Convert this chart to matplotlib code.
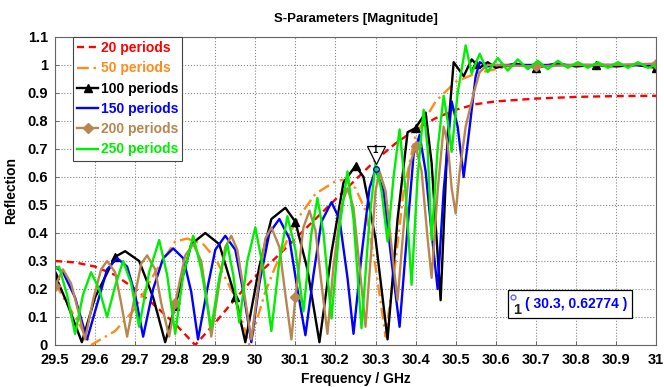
import numpy as np
import matplotlib
matplotlib.use("Agg")
import matplotlib.pyplot as plt
import matplotlib.transforms as mtransforms
from matplotlib.patches import Rectangle

plt.rcParams['font.family'] = ['Liberation Sans', 'DejaVu Sans']
plt.rcParams['font.weight'] = 'bold'

# 20 periods
f20 = [29.5, 29.55, 29.6, 29.65, 29.7, 29.75, 29.8, 29.85, 29.9, 29.95, 30.0, 30.05, 30.1,
       30.15, 30.2, 30.25, 30.3, 30.35, 30.4, 30.45, 30.5, 30.55, 30.6, 30.7, 30.8, 30.9, 31.0]
r20 = [0.30, 0.295, 0.28, 0.25, 0.20, 0.14, 0.075, 0.0, 0.08, 0.165, 0.245, 0.31, 0.38,
       0.45, 0.52, 0.59, 0.66, 0.72, 0.77, 0.81, 0.84, 0.86, 0.87, 0.88, 0.886, 0.889, 0.89]

# 50 periods
f50 = [29.5, 29.55, 29.59, 29.65, 29.7, 29.75, 29.8, 29.83, 29.87, 29.9, 29.95, 29.985,
       30.025, 30.05, 30.1, 30.15, 30.2, 30.22, 30.25, 30.275, 30.3, 30.325, 30.35, 30.37,
       30.4, 30.45, 30.5, 30.55, 30.6, 30.65, 30.8, 31.0]
r50 = [0.22, 0.10, 0.0, 0.05, 0.13, 0.26, 0.37, 0.38, 0.36, 0.31, 0.17, 0.0,
       0.19, 0.28, 0.44, 0.54, 0.585, 0.59, 0.56, 0.48, 0.28, 0.03, 0.30, 0.55,
       0.75, 0.87, 0.94, 0.97, 0.985, 1.0, 1.0, 1.0]

# 100 periods
f100 = [29.5, 29.53, 29.567, 29.6, 29.65, 29.675, 29.71, 29.745, 29.775, 29.8, 29.84, 29.875,
        29.91, 29.95, 29.975, 30.01, 30.04, 30.075, 30.1, 30.13, 30.16, 30.19, 30.22, 30.25,
        30.27, 30.3, 30.33, 30.355, 30.38, 30.4, 30.425, 30.44, 30.4625, 30.48, 30.495, 30.51,
        30.52, 30.54, 30.55, 30.56, 30.58, 30.6, 30.65, 30.7, 30.75, 30.8, 30.85, 30.9, 30.95, 31.0]
r100 = [0.25, 0.15, 0.01, 0.17, 0.315, 0.335, 0.30, 0.17, 0.01, 0.14, 0.36, 0.40,
        0.36, 0.17, 0.01, 0.28, 0.45, 0.49, 0.44, 0.27, 0.01, 0.33, 0.58, 0.64,
        0.60, 0.38, 0.02, 0.45, 0.76, 0.775, 0.83, 0.65, 0.16, 0.75, 1.01, 0.98,
        0.96, 1.02, 1.005, 0.99, 1.01, 0.99, 1.005, 0.99, 1.005, 0.995, 1.0, 0.995, 1.0, 0.99]
marks100 = [29.5, 29.65, 29.8, 29.95, 30.1, 30.25, 30.4, 30.55, 30.7, 30.85, 31.0]

# 150 periods
f150 = [29.5, 29.52, 29.55, 29.58, 29.61, 29.63, 29.655, 29.68, 29.70, 29.72, 29.745, 29.77,
        29.795, 29.82, 29.84, 29.857, 29.88, 29.90, 29.925, 29.95, 29.97, 29.99, 30.01, 30.035,
        30.06, 30.085, 30.105, 30.125, 30.145, 30.165, 30.19, 30.21, 30.23, 30.245, 30.265,
        30.285, 30.3, 30.32, 30.34, 30.36, 30.38, 30.395, 30.41, 30.425, 30.44, 30.455, 30.47,
        30.49, 30.505, 30.52, 30.535, 30.55, 30.56, 30.58, 30.6, 30.7, 30.8, 30.9, 31.0]
r150 = [0.28, 0.26, 0.17, 0.02, 0.17, 0.27, 0.31, 0.28, 0.18, 0.03, 0.20, 0.31,
        0.345, 0.31, 0.19, 0.02, 0.20, 0.34, 0.39, 0.34, 0.19, 0.01, 0.22, 0.40,
        0.45, 0.38, 0.20, 0.035, 0.25, 0.44, 0.51, 0.45, 0.24, 0.04, 0.32,
        0.56, 0.628, 0.55, 0.30, 0.065, 0.42, 0.68, 0.75, 0.62, 0.40, 0.20, 0.55,
        0.87, 0.78, 0.60, 0.78, 0.96, 1.01, 0.995, 1.0, 1.0, 1.0, 1.0, 1.0]

# 200 periods
f200 = [29.5, 29.52, 29.54, 29.56, 29.575, 29.595, 29.615, 29.63, 29.65, 29.665, 29.68, 29.7,
        29.715, 29.73, 29.75, 29.765, 29.785, 29.8, 29.825, 29.845, 29.865, 29.878, 29.89,
        29.91, 29.925, 29.94, 29.955, 29.975, 29.99, 30.01, 30.025, 30.04, 30.06, 30.075, 30.09,
        30.1, 30.12, 30.135, 30.15, 30.165, 30.18, 30.195, 30.215, 30.23, 30.245, 30.26, 30.275,
        30.29, 30.3, 30.31, 30.325, 30.34, 30.355, 30.37, 30.385, 30.4, 30.415, 30.43, 30.44,
        30.455, 30.47, 30.48, 30.49, 30.5, 30.51, 30.525, 30.545, 30.56, 30.58, 30.6, 30.7,
        30.8, 30.9, 31.0]
r200 = [0.21, 0.27, 0.22, 0.11, 0.02, 0.16, 0.27, 0.30, 0.26, 0.15, 0.03, 0.18,
        0.29, 0.32, 0.27, 0.15, 0.03, 0.15, 0.32, 0.36, 0.30, 0.17, 0.03,
        0.22, 0.35, 0.39, 0.34, 0.16, 0.02, 0.24, 0.38, 0.42, 0.35, 0.18, 0.02,
        0.17, 0.42, 0.48, 0.41, 0.22, 0.04, 0.28, 0.50, 0.56, 0.49, 0.28, 0.065,
        0.35, 0.55, 0.62, 0.55, 0.35, 0.16, 0.42, 0.64, 0.71, 0.62, 0.38, 0.24,
        0.55, 0.78, 0.72, 0.56, 0.47, 0.62, 0.78, 0.90, 0.975, 1.0, 1.0, 0.995,
        1.0, 1.0, 1.005]
marks200 = [29.5, 29.8, 30.1, 30.4, 30.7, 31.0]

# 250 periods
f250 = [29.5, 29.51, 29.53, 29.55, 29.57, 29.59, 29.61, 29.63, 29.65, 29.67, 29.69, 29.71,
        29.735, 29.76, 29.78, 29.8, 29.82, 29.845, 29.865, 29.89, 29.91, 29.93, 29.945, 29.96,
        29.98, 30.0, 30.02, 30.04, 30.06, 30.08, 30.1, 30.12, 30.14, 30.155, 30.17, 30.19,
        30.21, 30.23, 30.245, 30.265, 30.285, 30.3, 30.315, 30.33, 30.345, 30.36, 30.375, 30.39,
        30.405, 30.42, 30.43, 30.44, 30.455, 30.47, 30.48, 30.49, 30.505, 30.525, 30.54, 30.56,
        30.58, 30.605, 30.63, 30.655, 30.68, 30.705, 30.73, 30.755, 30.78, 30.805, 30.83, 30.855,
        30.88, 30.905, 30.93, 30.955, 30.98, 31.0]
r250 = [0.27, 0.28, 0.18, 0.04, 0.18, 0.26, 0.20, 0.10, 0.21, 0.30, 0.22, 0.065,
        0.26, 0.375, 0.25, 0.04, 0.25, 0.39, 0.27, 0.06, 0.24, 0.36, 0.25, 0.08,
        0.30, 0.42, 0.27, 0.05, 0.30, 0.46, 0.34, 0.12, 0.40, 0.525, 0.40, 0.095,
        0.42, 0.62, 0.45, 0.06, 0.45, 0.65, 0.55, 0.37, 0.60, 0.77, 0.55, 0.215,
        0.60, 0.84, 0.70, 0.375, 0.70, 0.89, 0.80, 0.69, 0.90, 1.07, 0.97, 1.04,
        0.975, 1.025, 0.98, 1.02, 0.985, 1.015, 0.985, 1.015, 0.99, 1.01, 0.99, 1.01,
        0.99, 1.01, 0.99, 1.01, 0.99, 1.0]

tip_f, tip_r = 30.3, 0.62774

xticks = [29.5, 29.6, 29.7, 29.8, 29.9, 30.0, 30.1, 30.2, 30.3, 30.4, 30.5, 30.6, 30.7, 30.8, 30.9, 31.0]
xticklabels = ['29.5', '29.6', '29.7', '29.8', '29.9', '30', '30.1', '30.2', '30.3', '30.4',
               '30.5', '30.6', '30.7', '30.8', '30.9', '31']
yticks = [0, 0.1, 0.2, 0.3, 0.4, 0.5, 0.6, 0.7, 0.8, 0.9, 1.0, 1.1]
yticklabels = ['0', '0.1', '0.2', '0.3', '0.4', '0.5', '0.6', '0.7', '0.8', '0.9', '1', '1.1']

brown = '#B8864E'
orange = '#FF8C1A'

fig = plt.figure(figsize=(6.64, 3.87), dpi=100)
ax = fig.add_axes([55 / 664, 42 / 387, 601 / 664, 308 / 387])

lw = 1.7
ax.plot(f20, r20, color='red', ls=(0, (3, 2)), lw=lw, label='20 periods')
ax.plot(f50, r50, color=orange, ls=(0, (5, 2, 1, 2)), lw=lw, label='50 periods')
idx100 = [i for i, f in enumerate(f100) if round(f, 3) in marks100]
ax.plot(f100, r100, color='black', lw=lw, marker='^', ms=6, markevery=idx100, label='100 periods')
ax.plot(f150, r150, color='blue', lw=lw, label='150 periods')
idx200 = [i for i, f in enumerate(f200) if round(f, 3) in marks200]
ax.plot(f200, r200, color=brown, lw=lw, marker='D', ms=5, markevery=idx200, label='200 periods')
ax.plot(f250, r250, color='#00EE00', lw=lw, label='250 periods')

# data tip
ax.plot([tip_f], [tip_r], marker='o', ms=4, mfc='none', mec='blue', mew=1)
tri = mtransforms.offset_copy(ax.transData, fig=fig, x=0, y=14, units='dots')
ax.plot([tip_f], [tip_r], marker='v', ms=13, mfc='white', mec='black', mew=0.9, transform=tri)
ax.text(tip_f, tip_r, '1', transform=tri, ha='center', va='bottom', fontsize=7)

ax.set_xlim(29.5, 31.0)
ax.set_ylim(0, 1.1)
ax.set_xticks(xticks)
ax.set_xticklabels(xticklabels, fontsize=10.5, fontweight='bold')
ax.set_yticks(yticks)
ax.set_yticklabels(yticklabels, fontsize=10.5, fontweight='bold')
ax.tick_params(direction='in', length=3, width=0.6, color='#555555')
ax.tick_params(axis='x', pad=6)
ax.tick_params(axis='y', pad=5)
ax.grid(True, ls=':', color='#888888', lw=0.8)
for s in ax.spines.values():
    s.set_color('#666666')
    s.set_linewidth(0.8)

ax.set_xlabel('Frequency / GHz', fontsize=10, fontweight='bold', labelpad=3)
ax.set_ylabel('Reflection', fontsize=10, fontweight='bold', labelpad=7)
ax.set_title('S-Parameters [Magnitude]', fontsize=9.5, fontweight='bold', pad=11)

leg = ax.legend(loc='upper left', bbox_to_anchor=(18 / 601, 1.0), borderaxespad=0,
                fancybox=False, framealpha=1, edgecolor='#444444', handlelength=1.5,
                handletextpad=0.2, labelspacing=0.45, borderpad=0.3,
                prop={'size': 10, 'weight': 'bold'})
leg.get_frame().set_linewidth(0.8)
for txt, line in zip(leg.get_texts(), leg.get_lines()):
    txt.set_color(line.get_color())

# data tip box
ax.add_patch(Rectangle((0.754, 0.088), 0.206, 0.091, transform=ax.transAxes,
                       fc='white', ec='black', lw=0.9, zorder=5))
ax.text(0.868, 0.134, '( 30.3, 0.62774 )', transform=ax.transAxes, color='blue',
        fontsize=10, fontweight='bold', ha='center', va='center', zorder=6)
ax.plot([0.762], [0.157], marker='o', ms=3.5, mfc='none', mec='#6666FF', mew=1,
        transform=ax.transAxes, clip_on=False, zorder=6)
ax.text(0.769, 0.113, '1', transform=ax.transAxes, fontsize=10.5, fontweight='bold',
        ha='center', va='center', color='#222222', zorder=6)

fig.savefig('out.png', dpi=100)
